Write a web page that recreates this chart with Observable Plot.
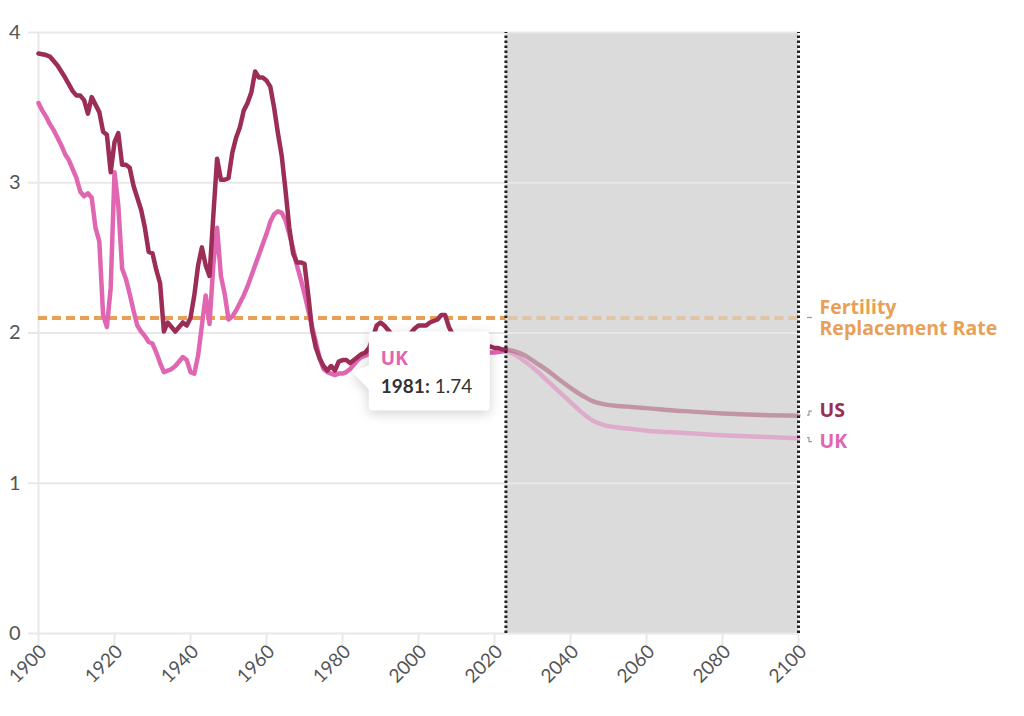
<!DOCTYPE html>
<html><head><meta charset="utf-8">
<script src="https://cdn.jsdelivr.net/npm/d3@7"></script>
<script src="https://cdn.jsdelivr.net/npm/@observablehq/plot@0.6"></script>
<style>
body{margin:0;background:#fff;font-family:Lato,sans-serif;}
#chart{width:1024px;height:716px;}
svg{overflow:visible}
</style></head><body><div id="chart"></div>
<script>
// ---- data ----
const usYears = [1900,1902,1903,1905,1907,1909,1910,1911,1912,1913,1914,1915,1916,1917,1918,1919,1920,1921,1922,1923,1924,1925,1926,1927,1928,1929,1930,1931,1932,1933,1934,1935,1936,1937,1938,1939,1940,1941,1942,1943,1944,1945,1946,1947,1948,1949,1950,1951,1952,1953,1954,1955,1956,1957,1958,1959,1960,1961,1962,1963,1964,1965,1966,1967,1968,1969,1970,1971,1972,1973,1974,1975,1976,1977,1978,1979,1980,1981,1982,1983,1984,1985,1986,1987,1988,1989,1990,1991,1992,1993,1994,1995,1996,1997,1998,1999,2000,2001,2002,2003,2004,2005,2006,2007,2008,2009,2010,2011,2012,2013,2014,2015,2016,2017,2018,2019,2020,2021,2022,2023];
const usValues = [3.86,3.85,3.84,3.78,3.70,3.61,3.58,3.58,3.55,3.46,3.57,3.52,3.47,3.34,3.32,3.07,3.27,3.33,3.12,3.12,3.10,2.98,2.90,2.82,2.70,2.54,2.53,2.42,2.33,2.01,2.07,2.04,2.01,2.04,2.07,2.05,2.10,2.25,2.45,2.57,2.45,2.38,2.78,3.16,3.02,3.02,3.03,3.20,3.30,3.37,3.48,3.53,3.60,3.74,3.70,3.70,3.68,3.64,3.50,3.33,3.18,2.95,2.70,2.53,2.47,2.47,2.46,2.25,2.02,1.90,1.83,1.78,1.75,1.78,1.75,1.81,1.82,1.82,1.80,1.82,1.84,1.86,1.87,1.90,1.97,2.05,2.07,2.05,2.02,1.99,1.97,1.97,1.98,1.98,2.00,2.03,2.05,2.05,2.05,2.07,2.08,2.09,2.12,2.12,2.04,1.99,1.95,1.92,1.91,1.90,1.90,1.89,1.89,1.90,1.90,1.91,1.90,1.90,1.89,1.89];
const ukYears = [1900,1901,1902,1903,1904,1905,1906,1907,1908,1909,1910,1911,1912,1913,1914,1915,1916,1917,1918,1919,1920,1921,1922,1923,1924,1925,1926,1927,1928,1929,1930,1931,1932,1933,1934,1935,1936,1937,1938,1939,1940,1941,1942,1943,1944,1945,1946,1947,1948,1949,1950,1951,1952,1953,1954,1955,1956,1957,1958,1959,1960,1961,1962,1963,1964,1965,1966,1967,1968,1969,1970,1971,1972,1973,1974,1975,1976,1977,1978,1979,1980,1981,1982,1983,1984,1985,1986,1987,1988,1990,1992,1995,1998,2000,2002,2005,2008,2010,2012,2015,2018,2020,2023];
const ukValues = [3.53,3.48,3.44,3.39,3.35,3.30,3.25,3.19,3.15,3.09,3.03,2.94,2.91,2.93,2.90,2.70,2.61,2.12,2.04,2.30,3.07,2.85,2.43,2.36,2.26,2.15,2.05,2.01,1.98,1.94,1.93,1.87,1.80,1.74,1.75,1.76,1.78,1.81,1.84,1.82,1.74,1.73,1.85,2.05,2.25,2.06,2.45,2.70,2.38,2.26,2.09,2.11,2.15,2.20,2.25,2.31,2.38,2.45,2.52,2.59,2.66,2.74,2.79,2.81,2.80,2.75,2.66,2.56,2.45,2.36,2.26,2.15,2.04,1.94,1.83,1.76,1.74,1.73,1.72,1.73,1.73,1.74,1.76,1.79,1.82,1.84,1.85,1.86,1.86,1.84,1.81,1.78,1.74,1.73,1.74,1.80,1.88,1.89,1.88,1.86,1.87,1.87,1.88];
const projYears = [2023,2025,2028,2031,2034,2037,2040,2043,2046,2049,2055,2060,2070,2080,2090,2100];
const usProjValues = [1.89,1.88,1.85,1.80,1.75,1.69,1.635,1.585,1.545,1.525,1.51,1.50,1.48,1.465,1.455,1.45];
const ukProjValues = [1.88,1.86,1.81,1.75,1.68,1.61,1.54,1.47,1.415,1.385,1.365,1.35,1.335,1.32,1.31,1.30];
const replacementRate = 2.1;
const projectionStart = 2023, projectionEnd = 2100;
const xTicks = [1900,1920,1940,1960,1980,2000,2020,2040,2060,2080,2100];
const yTicks = [0,1,2,3,4];
const seriesNames = ["US","UK"];
const replacementLabel = "Fertility\nReplacement Rate";
const tooltip = {name:"UK", year:1981, value:1.74};

// ---- tables ----
const usHist = usYears.map((y,i)=>({year:y,value:usValues[i]}));
const ukHist = ukYears.map((y,i)=>({year:y,value:ukValues[i]}));
const usProj = projYears.map((y,i)=>({year:y,value:usProjValues[i]}));
const ukProj = projYears.map((y,i)=>({year:y,value:ukProjValues[i]}));

const C = {us:"#9b2d56", uk:"#e066b2", orange:"#e8a057", grid:"#e8e8e8", text:"#555"};
const labelFont = "'Open Sans', sans-serif";

const plot = Plot.plot({
  width:1024, height:716,
  marginLeft:38, marginRight:226, marginTop:32, marginBottom:83,
  style:{fontFamily:"Lato, sans-serif", fontSize:"20px", background:"#fff", overflow:"visible"},
  x:{domain:[1900,2100]},
  y:{domain:[0,4]},
  marks:[
    Plot.rect([{x1:projectionStart,x2:projectionEnd}], {x1:"x1",x2:"x2",y1:0,y2:4,fill:"#dcdbdb"}),
    Plot.gridY(yTicks, {stroke:C.grid, strokeOpacity:1, strokeWidth:2}),
    Plot.ruleX([1900], {y1:0,y2:4,stroke:C.grid,strokeWidth:2}),
    Plot.axisY({ticks:yTicks, tickSize:10, tickPadding:8, stroke:C.grid, strokeWidth:2, fill:C.text, fontSize:20, label:null, tickFormat:d=>String(d)}),
    Plot.axisX({ticks:xTicks, tickSize:12, stroke:C.grid, strokeWidth:2, label:null, tickFormat:()=>""}),
    Plot.axisX({ticks:xTicks, tickSize:0, tickPadding:15, tickRotate:-45, dx:5, fill:C.text, fontSize:19, label:null, tickFormat:d=>String(d)}),
    Plot.ruleY([replacementRate], {x1:1900, x2:projectionStart, stroke:C.orange, strokeWidth:4, strokeDasharray:"9,5"}),
    Plot.ruleY([replacementRate], {x1:projectionStart, x2:projectionEnd, stroke:C.orange, strokeOpacity:0.4, strokeWidth:4, strokeDasharray:"9,5", strokeDashoffset:-3}),
    Plot.line(ukProj, {x:"year", y:"value", stroke:C.uk, strokeOpacity:0.4, strokeWidth:4.5, curve:"monotone-x"}),
    Plot.line(usProj, {x:"year", y:"value", stroke:C.us, strokeOpacity:0.4, strokeWidth:4.5, curve:"monotone-x"}),
    Plot.line(ukHist, {x:"year", y:"value", stroke:C.uk, strokeWidth:4.5, strokeLinejoin:"round"}),
    Plot.line(usHist, {x:"year", y:"value", stroke:C.us, strokeWidth:4.5, strokeLinejoin:"round"}),
    Plot.ruleX([projectionStart, projectionEnd], {y1:0, y2:4, stroke:"#222", strokeWidth:3, strokeDasharray:"2.5,2.5"}),
    Plot.text([replacementLabel], {x:()=>projectionEnd, y:()=>replacementRate, text:d=>d, dx:21, textAnchor:"start", lineAnchor:"middle", lineHeight:1.05, fill:C.orange, fontWeight:"bold", fontSize:19.5, fontFamily:labelFont}),
    Plot.text([seriesNames[0]], {x:()=>projectionEnd, y:()=>usProjValues[usProjValues.length-1], text:d=>d, dx:21, dy:-5, textAnchor:"start", fill:C.us, fontWeight:"bold", fontSize:19.5, fontFamily:labelFont}),
    Plot.text([seriesNames[1]], {x:()=>projectionEnd, y:()=>ukProjValues[ukProjValues.length-1], text:d=>d, dx:21, dy:4, textAnchor:"start", fill:C.uk, fontWeight:"bold", fontSize:19.5, fontFamily:labelFont})
  ]
});
document.getElementById("chart").appendChild(plot);

// ---- connectors & tooltip, positioned through the plot's scales ----
const xs = plot.scale("x"), ys = plot.scale("y");
const svg = d3.select(plot);
const xe = xs.apply(projectionEnd);
const conn = svg.append("g").attr("fill","none").attr("stroke","#999").attr("stroke-width",1.2);
const yr = ys.apply(replacementRate);
conn.append("path").attr("d",`M${xe+9},${yr}h5`);
const yu = ys.apply(usProjValues[usProjValues.length-1]);
conn.append("path").attr("d",`M${xe+9},${yu}h2v-4h3`);
const yk = ys.apply(ukProjValues[ukProjValues.length-1]);
conn.append("path").attr("d",`M${xe+9},${yk}h2v4h3`);

const px = xs.apply(tooltip.year), py = ys.apply(tooltip.value);
const bx = px + 23, bw = 121, bh = 79, by = py - 40;
const tg = svg.append("g").attr("text-anchor","start");
tg.append("path")
  .attr("d",`M${bx+4},${by}h${bw-8}a4,4 0 0 1 4,4v${bh-8}a4,4 0 0 1 -4,4h${-(bw-8)}a4,4 0 0 1 -4,-4V${py+18}L${px+6},${py}L${bx},${py-6}V${by+4}a4,4 0 0 1 4,-4z`)
  .attr("fill","#fff")
  .style("filter","drop-shadow(0px 3px 6px rgba(0,0,0,0.18))");
tg.append("text").attr("x",bx+12).attr("y",py-7).attr("fill",C.uk).attr("font-weight","bold")
  .attr("font-size",19).attr("font-family",labelFont).text(tooltip.name);
const t2 = tg.append("text").attr("x",bx+12).attr("y",py+21).attr("fill","#333")
  .attr("font-size",19).attr("font-family","Lato, sans-serif");
t2.append("tspan").attr("font-weight","bold").text(tooltip.year + ":");
t2.append("tspan").text(" " + tooltip.value.toFixed(2));
</script></body></html>
